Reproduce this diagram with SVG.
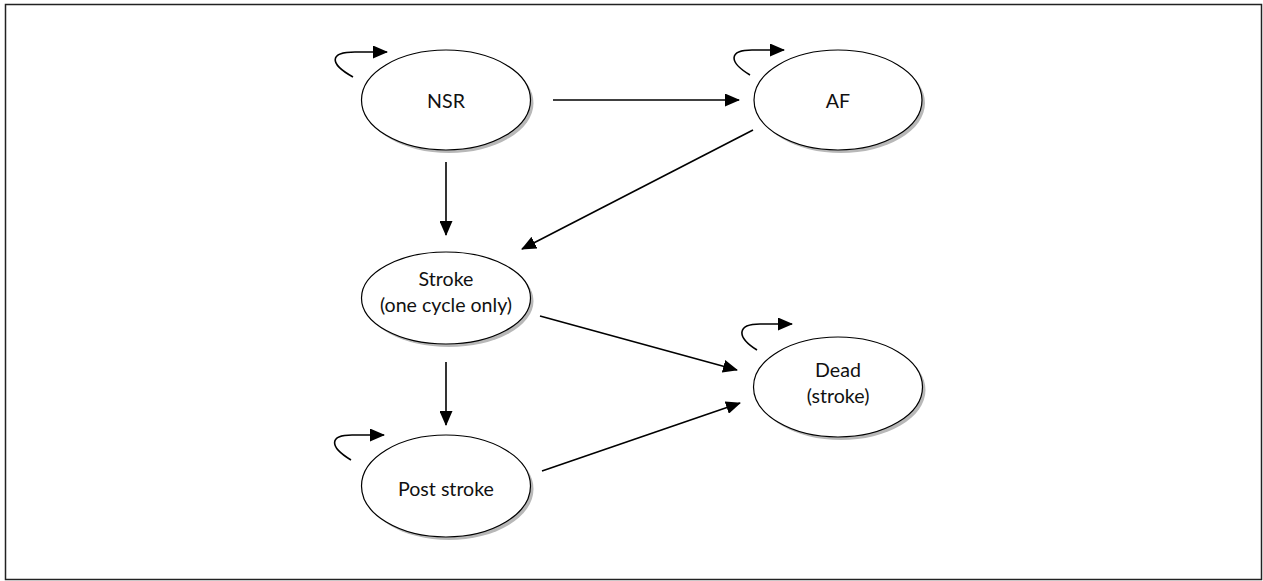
<svg xmlns="http://www.w3.org/2000/svg" width="1263" height="581" viewBox="0 0 1263 581">
<defs>
<marker id="ah" markerWidth="15" markerHeight="13" refX="14" refY="6.5" orient="auto" markerUnits="userSpaceOnUse">
<path d="M0,0 L15,6.5 L0,13 Z" fill="#000"/>
</marker>
</defs>
<style>
.sh{fill:#b8b8b8;stroke:none}
.el{fill:#fff;stroke:#000;stroke-width:1.2}
.lb{font-family:Lato,"Open Sans","Liberation Sans",sans-serif;font-size:19.6px;fill:#111;text-anchor:middle}
.cn{fill:none;stroke:#000;stroke-width:1.6}
</style>
<rect x="5.5" y="4.5" width="1256" height="575" fill="#fff" stroke="#222" stroke-width="1.5"/>
<g id="nsr">
<ellipse class="sh" cx="449" cy="103" rx="84.5" ry="50"/>
<ellipse class="el" cx="446" cy="100" rx="84.5" ry="50"/>
<text class="lb" x="446" y="108">NSR</text>
</g>
<g id="af">
<ellipse class="sh" cx="841" cy="103" rx="84" ry="50"/>
<ellipse class="el" cx="838" cy="100" rx="84" ry="50"/>
<text class="lb" x="838" y="108">AF</text>
</g>
<g id="stroke">
<ellipse class="sh" cx="449" cy="301" rx="84.5" ry="46"/>
<ellipse class="el" cx="446" cy="298" rx="84.5" ry="46"/>
<text class="lb" x="446" y="286">Stroke</text>
<text class="lb" x="446" y="312">(one cycle only)</text>
</g>
<g id="dead">
<ellipse class="sh" cx="841" cy="390" rx="84.5" ry="50"/>
<ellipse class="el" cx="838" cy="387" rx="84.5" ry="50"/>
<text class="lb" x="838" y="377">Dead</text>
<text class="lb" x="838" y="403">(stroke)</text>
</g>
<g id="post">
<ellipse class="sh" cx="449" cy="489" rx="84.5" ry="51"/>
<ellipse class="el" cx="446" cy="486" rx="84.5" ry="51"/>
<text class="lb" x="446" y="496">Post stroke</text>
</g>
<g id="connectors">
<path class="cn" d="M353,77 C328,63 330,52 355,52 L387,52" marker-end="url(#ah)"/>
<path class="cn" d="M750,75 C727,61 730,50 752,50 L784,50" marker-end="url(#ah)"/>
<path class="cn" d="M757,350 C735,336 738,324 760,324 L792,324" marker-end="url(#ah)"/>
<path class="cn" d="M351,460 C328,446 330,435 352,435 L384,435" marker-end="url(#ah)"/>
<path class="cn" d="M553,100 L739,100" marker-end="url(#ah)"/>
<path class="cn" d="M446,162 L446,235" marker-end="url(#ah)"/>
<path class="cn" d="M753,130 L522,249" marker-end="url(#ah)"/>
<path class="cn" d="M540,316 L737,370" marker-end="url(#ah)"/>
<path class="cn" d="M446,362 L446,425" marker-end="url(#ah)"/>
<path class="cn" d="M542,471 L740,403" marker-end="url(#ah)"/>
</g>
</svg>
